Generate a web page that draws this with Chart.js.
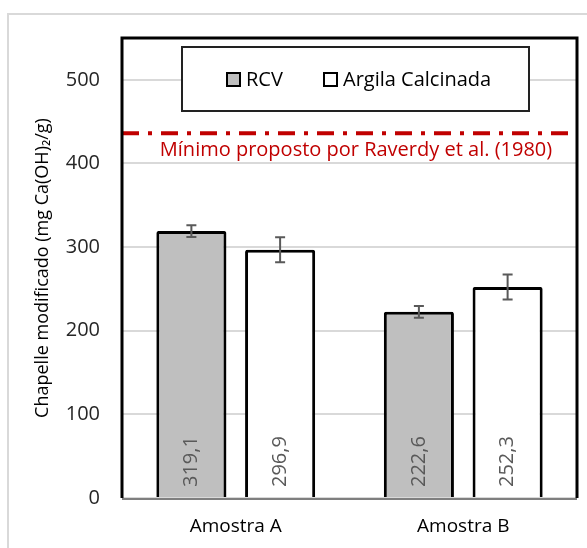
<!DOCTYPE html>
<html>
<head>
<meta charset="utf-8">
<script src="https://cdn.jsdelivr.net/npm/chart.js@4.4.1/dist/chart.umd.min.js"></script>
<style>
  html, body { margin: 0; padding: 0; background: #fff; }
  #wrap { width: 587px; height: 548px; }
</style>
</head>
<body>
<div id="wrap"><canvas id="chart" width="587" height="548"></canvas></div>
<script>
const categories = ['Amostra A', 'Amostra B'];
const rcvValues = [319.1, 222.6];
const rcvErrors = [7, 7];
const argilaValues = [296.9, 252.3];
const argilaErrors = [15, 15];
const minimumValue = 436;
const minimumLabel = 'Mínimo proposto por Raverdy et al. (1980)';
const yTicks = [0, 100, 200, 300, 400, 500];

const FONT = "'Open Sans', 'Noto Sans', sans-serif";

// outer frame + plot border + legend box
const framePlugin = {
  id: 'frame',
  beforeDraw(chart) {
    const ctx = chart.ctx;
    ctx.save();
    ctx.fillStyle = '#fff';
    ctx.fillRect(0, 0, chart.width, chart.height);
    ctx.strokeStyle = '#d9d9d9';
    ctx.lineWidth = 2;
    ctx.strokeRect(8, 14, chart.width + 20, chart.height + 20);
    ctx.restore();
  },
  afterDatasetsDraw(chart) {
    const ctx = chart.ctx;
    const a = chart.chartArea;
    const y = chart.scales.y;
    ctx.save();

    // error bars
    chart.data.datasets.forEach((ds, i) => {
      const meta = chart.getDatasetMeta(i);
      meta.data.forEach((bar, j) => {
        const v = ds.data[j], e = ds.errors[j];
        const yt = y.getPixelForValue(v + e), yb = y.getPixelForValue(v - e);
        ctx.strokeStyle = '#595959';
        ctx.lineWidth = 2;
        ctx.beginPath();
        ctx.moveTo(bar.x, yt); ctx.lineTo(bar.x, yb);
        ctx.moveTo(bar.x - 5, yt); ctx.lineTo(bar.x + 5, yt);
        ctx.moveTo(bar.x - 5, yb); ctx.lineTo(bar.x + 5, yb);
        ctx.stroke();

        // value label inside bar, rotated
        ctx.save();
        ctx.translate(bar.x, a.bottom - 11);
        ctx.rotate(-Math.PI / 2);
        ctx.fillStyle = '#595959';
        ctx.font = '20px ' + FONT;
        ctx.textAlign = 'left';
        ctx.textBaseline = 'middle';
        ctx.fillText(v.toFixed(1).replace('.', ','), 0, 0);
        ctx.restore();
      });
    });

    // minimum line
    const ym = y.getPixelForValue(minimumValue);
    ctx.strokeStyle = '#c00000';
    ctx.lineWidth = 4;
    ctx.setLineDash([17, 9, 4, 9]);
    ctx.beginPath();
    ctx.moveTo(a.left, ym); ctx.lineTo(a.right, ym);
    ctx.stroke();
    ctx.setLineDash([]);
    ctx.fillStyle = '#c00000';
    ctx.font = '20px ' + FONT;
    ctx.textAlign = 'center';
    ctx.textBaseline = 'middle';
    ctx.fillText(minimumLabel, 356, ym + 17);

    // plot border
    ctx.strokeStyle = '#000';
    ctx.lineWidth = 3;
    ctx.beginPath();
    ctx.moveTo(a.left, a.bottom);
    ctx.lineTo(a.left, a.top);
    ctx.lineTo(a.right, a.top);
    ctx.lineTo(a.right, a.bottom);
    ctx.stroke();
    ctx.strokeStyle = '#7f7f7f';
    ctx.lineWidth = 2;
    ctx.beginPath();
    ctx.moveTo(a.left, a.bottom + 1); ctx.lineTo(a.right, a.bottom + 1);
    ctx.stroke();

    // legend box
    const lx = 182, ly = 47, lw = 347, lh = 64;
    ctx.fillStyle = '#fff';
    ctx.fillRect(lx, ly, lw, lh);
    ctx.strokeStyle = '#222';
    ctx.lineWidth = 2;
    ctx.strokeRect(lx, ly, lw, lh);
    const items = [[227, 0], [324, 1]];
    ctx.font = '20px ' + FONT;
    ctx.textAlign = 'left';
    items.forEach(([x, i]) => {
      const ds = chart.data.datasets[i];
      ctx.fillStyle = ds.backgroundColor;
      ctx.fillRect(x, 73, 13, 13);
      ctx.strokeStyle = '#000';
      ctx.lineWidth = 2;
      ctx.strokeRect(x, 73, 13, 13);
      ctx.fillStyle = '#000';
      ctx.fillText(ds.label, x + 19, 80);
    });
    ctx.restore();
  }
};

new Chart('chart', {
  type: 'bar',
  data: {
    labels: categories,
    datasets: [{
      label: 'RCV',
      data: rcvValues,
      errors: rcvErrors,
      backgroundColor: '#bfbfbf',
      borderColor: '#000',
      borderWidth: 3,
      borderRadius: 2,
      borderSkipped: 'bottom'
    }, {
      label: 'Argila Calcinada',
      data: argilaValues,
      errors: argilaErrors,
      backgroundColor: '#ffffff',
      borderColor: '#000',
      borderWidth: 3,
      borderRadius: 2,
      borderSkipped: 'bottom'
    }]
  },
  options: {
    responsive: false,
    animation: false,
    categoryPercentage: 0.78,
    barPercentage: 0.79,
    layout: { padding: { left: 28, top: 38, right: 10, bottom: 0 } },
    plugins: {
      legend: { display: false },
      tooltip: { enabled: false }
    },
    scales: {
      x: {
        grid: { display: false },
        border: { display: false },
        ticks: { color: '#000', font: { family: FONT, size: 19 }, padding: 9 },
        afterFit(s) { s.height = 50; }
      },
      y: {
        min: 0,
        max: 550,
        afterBuildTicks(s) { s.ticks = yTicks.map(v => ({ value: v })); },
        grid: { color: '#d9d9d9', lineWidth: 2, drawTicks: false },
        border: { display: false },
        ticks: { color: '#262626', font: { family: FONT, size: 20 }, padding: 22 },
        title: {
          display: true,
          text: 'Chapelle modificado (mg Ca(OH)₂/g)',
          color: '#000',
          font: { family: FONT, size: 18 },
          padding: { bottom: 4 }
        },
        afterFit(s) { s.width = 94; }
      }
    }
  },
  plugins: [framePlugin]
});
</script>
</body>
</html>
